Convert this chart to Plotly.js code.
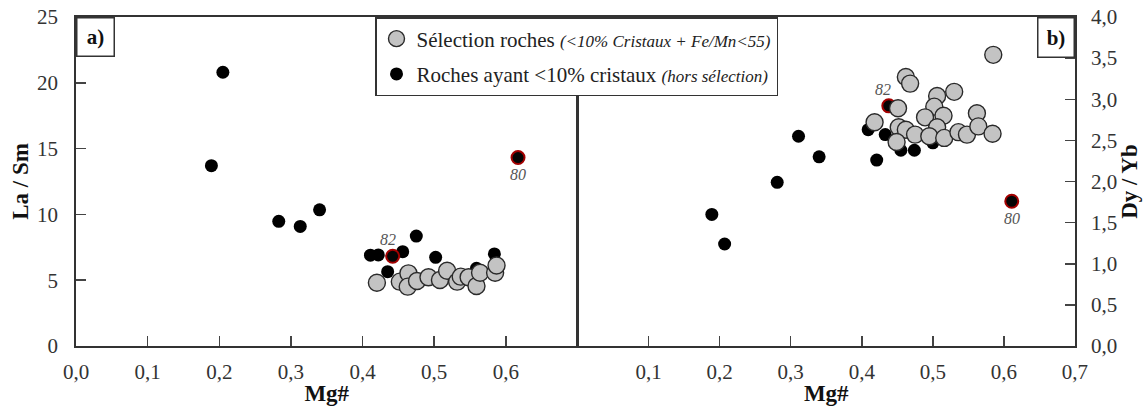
<!DOCTYPE html>
<html>
<head>
<meta charset="utf-8">
<script src="https://cdn.plot.ly/plotly-3.0.1.min.js"></script>
<style>html,body{margin:0;padding:0;background:#fff;}#chart{width:1145px;height:406px;}</style>
</head>
<body>
<div id="chart"></div>
<script>
// ---- Data ----
// Panel a) La/Sm vs Mg#
const mgGreyA   = [0.420,0.452,0.464,0.463,0.476,0.492,0.508,0.518,0.532,0.537,0.548,0.559,0.564,0.585,0.587];
const laSmGrey  = [4.81, 4.89, 5.52, 4.51, 4.94, 5.22, 5.02, 5.72, 4.89, 5.27, 5.22, 4.56, 5.57, 5.57, 6.12];
const mgBlackA  = [0.205,0.189,0.283,0.313,0.340,0.475,0.411,0.422,0.456,0.502,0.584,0.435,0.559];
const laSmBlack = [20.8, 13.7, 9.47, 9.09, 10.35,8.35, 6.90, 6.92, 7.17, 6.74, 7.00, 5.65, 5.90];
const mgRedA    = [0.442,0.617];
const laSmRed   = [6.82, 14.32];
// Panel b) Dy/Yb vs Mg#
const mgGreyB   = [0.585,0.462,0.468,0.451,0.418,0.506,0.530,0.502,0.489,0.515,0.452,0.462,0.475,0.506,0.495,0.516,0.536,0.548,0.562,0.564,0.584,0.449];
const dyYbGrey  = [3.54, 3.27, 3.19, 2.89, 2.72, 3.04, 3.09, 2.91, 2.78, 2.80, 2.66, 2.63, 2.57, 2.66, 2.55, 2.53, 2.60, 2.57, 2.83, 2.67, 2.58, 2.48];
const mgBlackB  = [0.189,0.207,0.281,0.311,0.340,0.421,0.409,0.433,0.455,0.474,0.500];
const dyYbBlack = [1.60, 1.24, 1.99, 2.55, 2.30, 2.26, 2.63, 2.57, 2.38, 2.38, 2.47];
const mgRedB    = [0.438,0.611];
const dyYbRed   = [2.92, 1.76];
const sampleLabels = ['82','80'];
// Tick labels
const xTicksA = [0,0.1,0.2,0.3,0.4,0.5,0.6];
const xTicksB = [0.1,0.2,0.3,0.4,0.5,0.6,0.7];
const yTicksA = [0,5,10,15,20,25];
const yTicksB = [0,0.5,1,1.5,2,2.5,3,3.5,4];

const SERIF = 'Liberation Serif';
const greyMarker  = {size:17, color:'#c3c3c3', line:{color:'#2a2a2a', width:1.4}};
const blackMarker = {size:13, color:'#000', line:{width:0}};
const redMarker   = {size:13, color:'#050505', line:{color:'#a30000', width:2}};

const traces = [
  {x:mgBlackA, y:laSmBlack, xaxis:'x', yaxis:'y', type:'scatter', mode:'markers', marker:blackMarker,
   name:'Roches ayant &lt;10% cristaux <i><span style="font-size:17px">(hors sélection)</span></i>', legendrank:2, legendgroup:'g2', showlegend:true},
  {x:mgRedA, y:laSmRed, xaxis:'x', yaxis:'y', type:'scatter', mode:'markers', marker:redMarker, showlegend:false},
  {x:mgGreyA, y:laSmGrey, xaxis:'x', yaxis:'y', type:'scatter', mode:'markers', marker:greyMarker,
   name:'Sélection roches <i><span style="font-size:17px">(&lt;10% Cristaux + Fe/Mn&lt;55)</span></i>', legendrank:1, legendgroup:'g1', showlegend:true},
  {x:mgBlackB, y:dyYbBlack, xaxis:'x2', yaxis:'y2', type:'scatter', mode:'markers', marker:blackMarker, showlegend:false},
  {x:mgRedB, y:dyYbRed, xaxis:'x2', yaxis:'y2', type:'scatter', mode:'markers', marker:redMarker, showlegend:false},
  {x:mgGreyB, y:dyYbGrey, xaxis:'x2', yaxis:'y2', type:'scatter', mode:'markers', marker:greyMarker, showlegend:false}
];

const labFont = {family:SERIF, size:16, color:'#555', style:'italic'};
const annotations = [];
const shiftsA = [[-5,17],[0,-17]], shiftsB = [[-6,16],[0,-17]];
sampleLabels.forEach((t,i)=>{
  annotations.push({xref:'x', yref:'y', x:mgRedA[i], y:laSmRed[i], text:'<i>'+t+'</i>', showarrow:false,
    xshift:shiftsA[i][0], yshift:shiftsA[i][1], font:labFont});
  annotations.push({xref:'x2', yref:'y2', x:mgRedB[i], y:dyYbRed[i], text:'<i>'+t+'</i>', showarrow:false,
    xshift:shiftsB[i][0], yshift:shiftsB[i][1], font:labFont});
});
annotations.push({xref:'x domain', yref:'y domain', x:0, y:1, xanchor:'left', yanchor:'top', text:'<b>a)</b>',
  showarrow:false, font:{family:SERIF, size:21, color:'#111'}, bgcolor:'#fff', bordercolor:'#333', borderwidth:1.5,
  width:34, height:35, borderpad:1});
annotations.push({xref:'x2 domain', yref:'y2 domain', x:1, y:1, xanchor:'right', yanchor:'top', text:'<b>b)</b>',
  showarrow:false, font:{family:SERIF, size:21, color:'#111'}, bgcolor:'#fff', bordercolor:'#333', borderwidth:1.5,
  width:33, height:36, borderpad:1});

const tickFont = {family:SERIF, size:21, color:'#333'};
const titleFont = {family:SERIF, size:23, color:'#111', weight:'bold'};
const axCommon = {showgrid:false, zeroline:false, showline:true, linecolor:'#333', linewidth:1.8, mirror:true,
  ticks:'inside', ticklen:10, tickwidth:1.5, tickcolor:'#444', tickfont:tickFont};

const layout = {
  width:1145, height:406,
  margin:{l:76, r:70, t:17, b:60, pad:0},
  paper_bgcolor:'#fff', plot_bgcolor:'#fff',
  separators:', ',
  font:{family:SERIF, color:'#222'},
  showlegend:true,
  legend:{x:0.2993, y:1, xanchor:'left', yanchor:'top', bgcolor:'#fff', bordercolor:'#333', borderwidth:1.5,
    font:{family:SERIF, size:21, color:'#222'}, itemsizing:'trace', traceorder:'grouped', tracegroupgap:5},
  xaxis:Object.assign({}, axCommon, {domain:[0,0.502], range:[0,0.70], tickvals:xTicksA, tickformat:'.1f', anchor:'y',
    ticklabelstandoff:6, title:{text:'<b>Mg#</b>', font:titleFont, standoff:2}}),
  yaxis:Object.assign({}, axCommon, {range:[0,25], tickvals:yTicksA, anchor:'x', ticklabelstandoff:12,
    title:{text:'<b>La / Sm</b>', font:titleFont, standoff:2}}),
  xaxis2:Object.assign({}, axCommon, {domain:[0.502,1], range:[0,0.70], tickvals:xTicksB, tickformat:'.1f', anchor:'y2',
    ticklabelstandoff:6, title:{text:'<b>Mg#</b>', font:titleFont, standoff:2}}),
  yaxis2:Object.assign({}, axCommon, {range:[0,4], tickvals:yTicksB, tickformat:'.1f', anchor:'x2', side:'right',
    ticklabelstandoff:10, title:{text:'<b>Dy / Yb</b>', font:titleFont, standoff:3}}),
  annotations:annotations
};

Plotly.newPlot('chart', traces, layout, {displayModeBar:false, staticPlot:true});
</script>
</body>
</html>
